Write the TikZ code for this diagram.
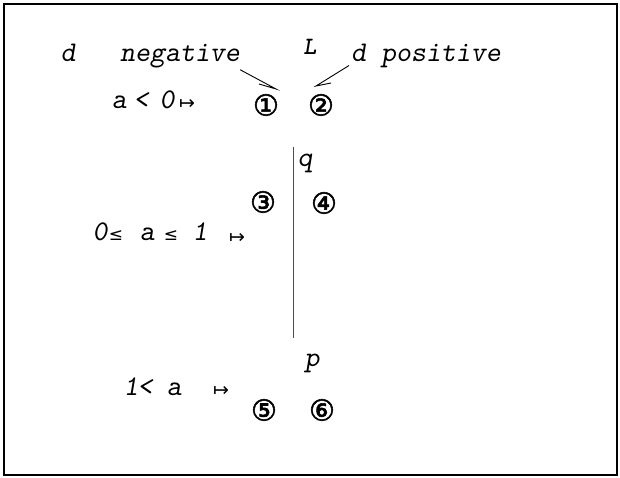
\documentclass[tikz,border=0pt]{standalone}
\usepackage{fontspec}
\newfontfamily\symf{DejaVu Sans}
\newfontfamily\symc[FakeBold=1.8]{DejaVu Sans}
\begin{document}
\begin{tikzpicture}[x=1pt,y=-1pt,
  txt/.style={font=\fontsize{28.5}{28.5}\selectfont\ttfamily\slshape, inner sep=0pt, anchor=base},
  smalltxt/.style={font=\fontsize{25}{25}\selectfont\ttfamily\slshape\bfseries, inner sep=0pt, anchor=base},
  lesym/.style={font=\fontsize{17}{17}\selectfont\symf, inner sep=0pt, anchor=base},
  circ/.style={font=\fontsize{29}{29}\selectfont\symc, inner sep=0pt},
  mapto/.style={font=\fontsize{19}{19}\selectfont\symf, inner sep=0pt},
  pointer/.style={line width=0.9pt, black},
  frame/.style={line width=1.8pt, black},
  axis/.style={line width=0.7pt, black!70}]
\useasboundingbox (0,0) rectangle (620,478);
% frame
\draw[frame] (4,4) rectangle (617,475);
% row 1
\node[txt] (d1) at (68,62) {d};
\node[txt, anchor=base west] (neg) at (120,62) {negative};
\node[smalltxt] (L) at (310,55) {L};
\node[txt, anchor=base west] (dpos) at (351,62) {d positive};
\coordinate (t1) at (276,89);
\coordinate (t2) at (316,86);
\draw[pointer] ([shift={(0,1)}]neg.south east) -- (t1) -- ++(-17,-5);
\draw[pointer] ([shift={(-2,-3)}]dpos.south west) -- (t2) -- ++(15,-3);
% row 2
\node[txt] (a1) at (119,109) {a};
\node[txt] (lt1) at (141,109) {<};
\node[txt] (z1) at (167,109) {0};
\node[mapto] (m1) at (187,104) {↦};
\node[circ] (c1) at (266,105) {①};
\node[circ] (c2) at (321,105) {②};
% axis
\coordinate (top) at (293,147);
\coordinate (bot) at (293,338);
\draw[axis] (top) -- (bot);
\node[txt] (q) at (305,167) {q};
\node[circ] (c3) at (263,202) {③};
\node[circ] (c4) at (324,203) {④};
% row 3
\node[txt] (z3) at (100,240) {0};
\node[lesym] (le1) at (116,240) {≤};
\node[txt] (a3) at (147,240) {a};
\node[lesym] (le2) at (171,240) {≤};
\node[txt] (o3) at (200,240) {1};
\node[mapto] (m3) at (237,238) {↦};
% row 4
\node[txt] (p) at (312,366) {p};
\node[txt] (o4) at (131,395) {1};
\node[txt] (lt4) at (145,395) {<};
\node[txt] (a4) at (174,395) {a};
\node[mapto] (m4) at (221,391) {↦};
\node[circ] (c5) at (264,410) {⑤};
\node[circ] (c6) at (322,410) {⑥};
\end{tikzpicture}
\end{document}
